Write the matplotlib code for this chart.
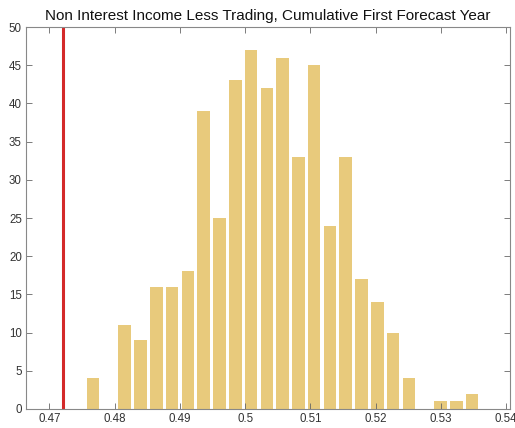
import matplotlib.pyplot as plt
import numpy as np

plt.rcParams['font.family'] = ['Liberation Sans', 'DejaVu Sans']

# histogram counts per bin (25 bins)
counts = [4, 0, 11, 9, 16, 16, 18, 39, 25, 43, 47, 42, 46, 33, 45, 24,
          33, 17, 14, 10, 4, 0, 1, 1, 2]
first_center = 0.4767
last_center = 0.5348
actual_value = 0.4721
xticks = [0.47, 0.48, 0.49, 0.5, 0.51, 0.52, 0.53, 0.54]
xtick_labels = ['0.47', '0.48', '0.49', '0.5', '0.51', '0.52', '0.53', '0.54']
yticks = list(range(0, 51, 5))

centers = np.linspace(first_center, last_center, len(counts))
width = (centers[1] - centers[0]) * 0.8

fig = plt.figure(figsize=(5.15, 4.28), dpi=100)
ax = fig.add_axes([0.0505, 0.0444, 0.9395, 0.8925])

ax.bar(centers, counts, width=width, color='#E8CA7C', edgecolor='none')
ax.axvline(actual_value, color='#D42A2A', linewidth=2.2)

ax.set_xlim(0.4664, 0.5406)
ax.set_ylim(0, 50)
ax.set_xticks(xticks)
ax.set_xticklabels(xtick_labels)
ax.set_yticks(yticks)
ax.tick_params(direction='in', top=True, right=True, length=4, width=0.6,
               color='#666666', labelsize=8.3, labelcolor='#333333', pad=3)
for s in ax.spines.values():
    s.set_color('#888888')
    s.set_linewidth(0.8)

ax.set_title('Non Interest Income Less Trading, Cumulative First Forecast Year',
             fontsize=11, color='#111111', pad=5)

plt.savefig('out.png', dpi=100)
